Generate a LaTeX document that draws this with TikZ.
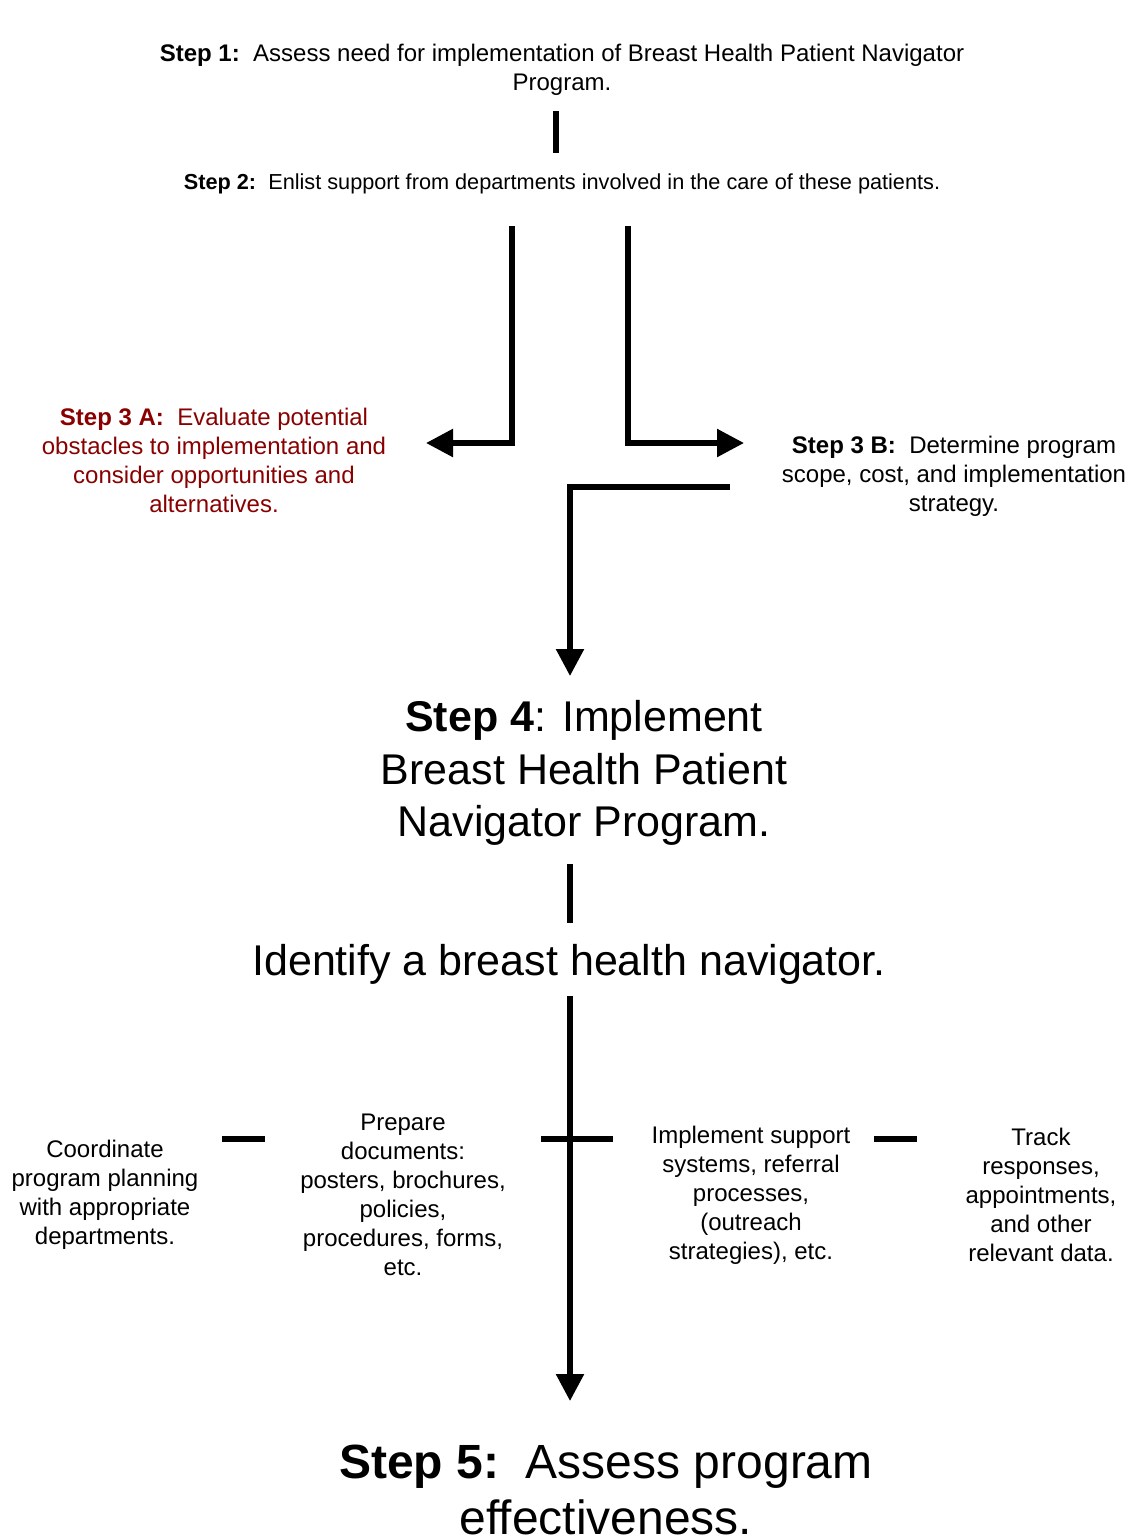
\documentclass[tikz,border=0pt]{standalone}
\usepackage{fontspec}
\setmainfont{Liberation Sans}
\usetikzlibrary{arrows.meta,positioning}
\definecolor{stepred}{RGB}{136,0,0}
\tikzstyle{flow} = [line width=5.5pt,-{Triangle[length=27pt,width=27pt]}]
\tikzstyle{link} = [line width=5.5pt]
\tikzstyle{small} = [align=center,inner sep=0pt,font=\fontsize{24}{29}\selectfont]
\tikzstyle{big} = [align=center,inner sep=0pt,font=\fontsize{43}{52.5}\selectfont]

\begin{document}
\begin{tikzpicture}[x=1pt,y=-1pt]
	\useasboundingbox (0,0) rectangle (1138,1537);

	\node[small](step1) at (562,70) {\textbf{Step 1:}\ \ Assess need for implementation of Breast Health Patient Navigator\\Program.};
	\node[small,font=\fontsize{21.7}{26}\selectfont](step2) at (562,184) {\textbf{Step 2:}\ \ Enlist support from departments involved in the care of these patients.};
	\node[small,text=stepred](step3a) at (214,460) {\textbf{Step 3 A:}\ \ Evaluate potential\\obstacles to implementation and\\consider opportunities and\\alternatives.};
	\node[small](step3b) at (954,476) {\textbf{Step 3 B:}\ \ Determine program\\scope, cost, and implementation\\strategy.};
	\node[big](step4) at (584,773) {\textbf{Step 4}: Implement\\Breast Health Patient\\Navigator Program.};
	\node[big](navigator) at (569,964) {Identify a breast health navigator.};
	\node[small](coordinate) at (105,1195) {Coordinate\\program planning\\with appropriate\\departments.};
	\node[small](prepare) at (403,1195) {Prepare\\documents:\\posters, brochures,\\policies,\\procedures, forms,\\etc.};
	\node[small](support) at (751,1195) {Implement support\\systems, referral\\processes,\\(outreach\\strategies), etc.};
	\node[small](track) at (1041,1195) {Track\\responses,\\appointments,\\and other\\relevant data.};
	\node[align=center,inner sep=0pt,font=\fontsize{48}{56}\selectfont](step5) at (606,1490) {\textbf{Step 5:}\ \ Assess program\\effectiveness.};

	% connector ends
	\coordinate (s1out) at (556,111);
	\coordinate (s2in) at (556,153);
	\coordinate (s2left) at (512,226);
	\coordinate (s3ain) at (426,443);
	\coordinate (s2right) at (628,226);
	\coordinate (s3bin) at (744,443);
	\coordinate (s3bout) at (730,487);
	\coordinate (s4in) at (570,676);
	\coordinate (s4out) at (570,864);
	\coordinate (navin) at (570,923);
	\coordinate (navout) at (570,996);
	\coordinate (s5in) at (570,1401);

	\draw[link] (s1out) -- (s2in);
	\draw[flow] (s2left) |- (s3ain);
	\draw[flow] (s2right) |- (s3bin);
	\draw[flow] (s3bout) -| (s4in);
	\draw[link] (s4out) -- (navin);
	\draw[flow] (navout) -- (s5in);
	\draw[link] (541,1139) -- (613,1139);
	\draw[link] (222,1139) -- (265,1139);
	\draw[link] (874,1139) -- (917,1139);

\end{tikzpicture}
\end{document}
